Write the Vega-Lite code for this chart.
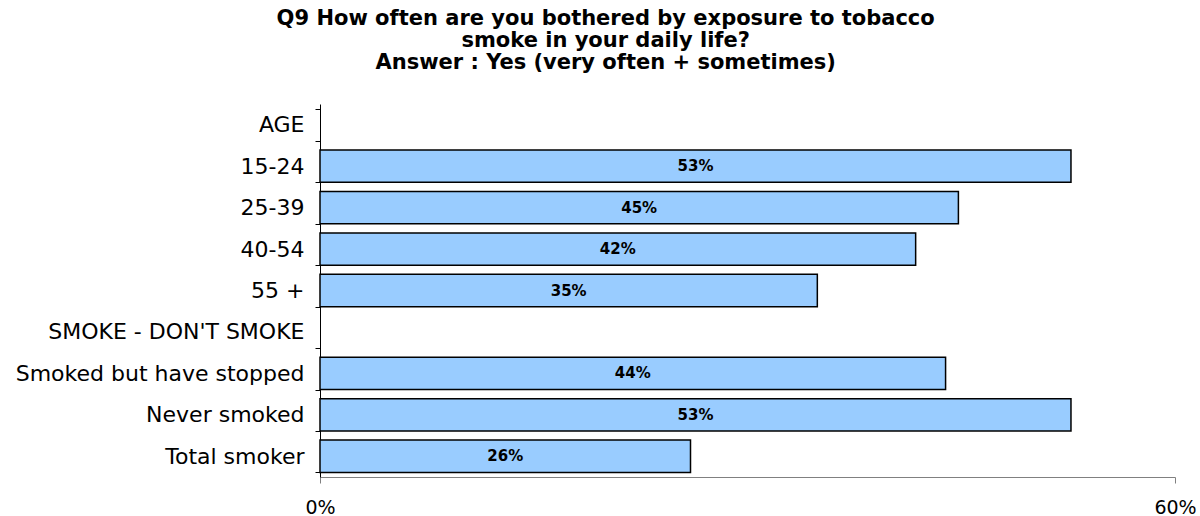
{
  "$schema": "https://vega.github.io/schema/vega-lite/v6.json",
  "autosize": "none",
  "width": 855,
  "height": 373,
  "padding": {"left": 320, "top": 104, "right": 25, "bottom": 39},
  "background": "white",
  "title": {
    "text": ["Q9 How often are you bothered by exposure to tobacco", "smoke in your daily life?", "Answer : Yes (very often + sometimes)"],
    "font": "DejaVu Sans",
    "fontSize": 21,
    "fontWeight": "bold",
    "color": "black",
    "lineHeight": 22,
    "anchor": "middle",
    "frame": "bounds",
    "offset": 20
  },
  "config": {"view": {"stroke": null}},
  "data": {
    "values": [
      {"group": "AGE", "value": null},
      {"group": "15-24", "value": 0.527},
      {"group": "25-39", "value": 0.448},
      {"group": "40-54", "value": 0.418},
      {"group": "55 +", "value": 0.349},
      {"group": "SMOKE - DON'T SMOKE", "value": null},
      {"group": "Smoked but have stopped", "value": 0.439},
      {"group": "Never smoked", "value": 0.527},
      {"group": "Total smoker", "value": 0.26}
    ]
  },
  "encoding": {
    "y": {
      "field": "group",
      "type": "nominal",
      "sort": null,
      "title": null,
      "scale": {
        "domain": ["AGE", "15-24", "25-39", "40-54", "55 +", "SMOKE - DON'T SMOKE", "Smoked but have stopped", "Never smoked", "Total smoker"],
        "paddingInner": 0.22,
        "paddingOuter": 0.11
      },
      "axis": {
        "tickBand": "extent",
        "domainColor": "black",
        "domainWidth": 1,
        "tickColor": "black",
        "tickSize": 5,
        "labelPadding": 11,
        "labelFont": "DejaVu Sans",
        "labelFontSize": 22,
        "labelColor": "black",
        "labelLimit": 400
      }
    }
  },
  "layer": [
    {
      "mark": {"type": "bar", "fill": "#99CCFF", "stroke": "black", "strokeWidth": 1.5},
      "encoding": {
        "x": {
          "field": "value",
          "type": "quantitative",
          "title": null,
          "scale": {"domain": [0, 0.6], "nice": false},
          "axis": {
            "values": [0, 0.6],
            "format": ".0%",
            "grid": false,
            "domainColor": "#808080",
            "tickColor": "#808080",
            "tickSize": 6,
            "labelPadding": 15,
            "labelFont": "DejaVu Sans",
            "labelFontSize": 19,
            "labelColor": "black",
            "labelFlush": false
          }
        }
      }
    },
    {
      "mark": {"type": "text", "font": "DejaVu Sans", "fontSize": 15, "fontWeight": "bold", "color": "black", "align": "center", "baseline": "middle"},
      "encoding": {
        "x": {
          "field": "value",
          "type": "quantitative",
          "scale": {"domain": [0, 1.2], "nice": false},
          "axis": null
        },
        "text": {"field": "value", "type": "quantitative", "format": ".0%"}
      }
    }
  ],
  "resolve": {"scale": {"x": "independent"}}
}
